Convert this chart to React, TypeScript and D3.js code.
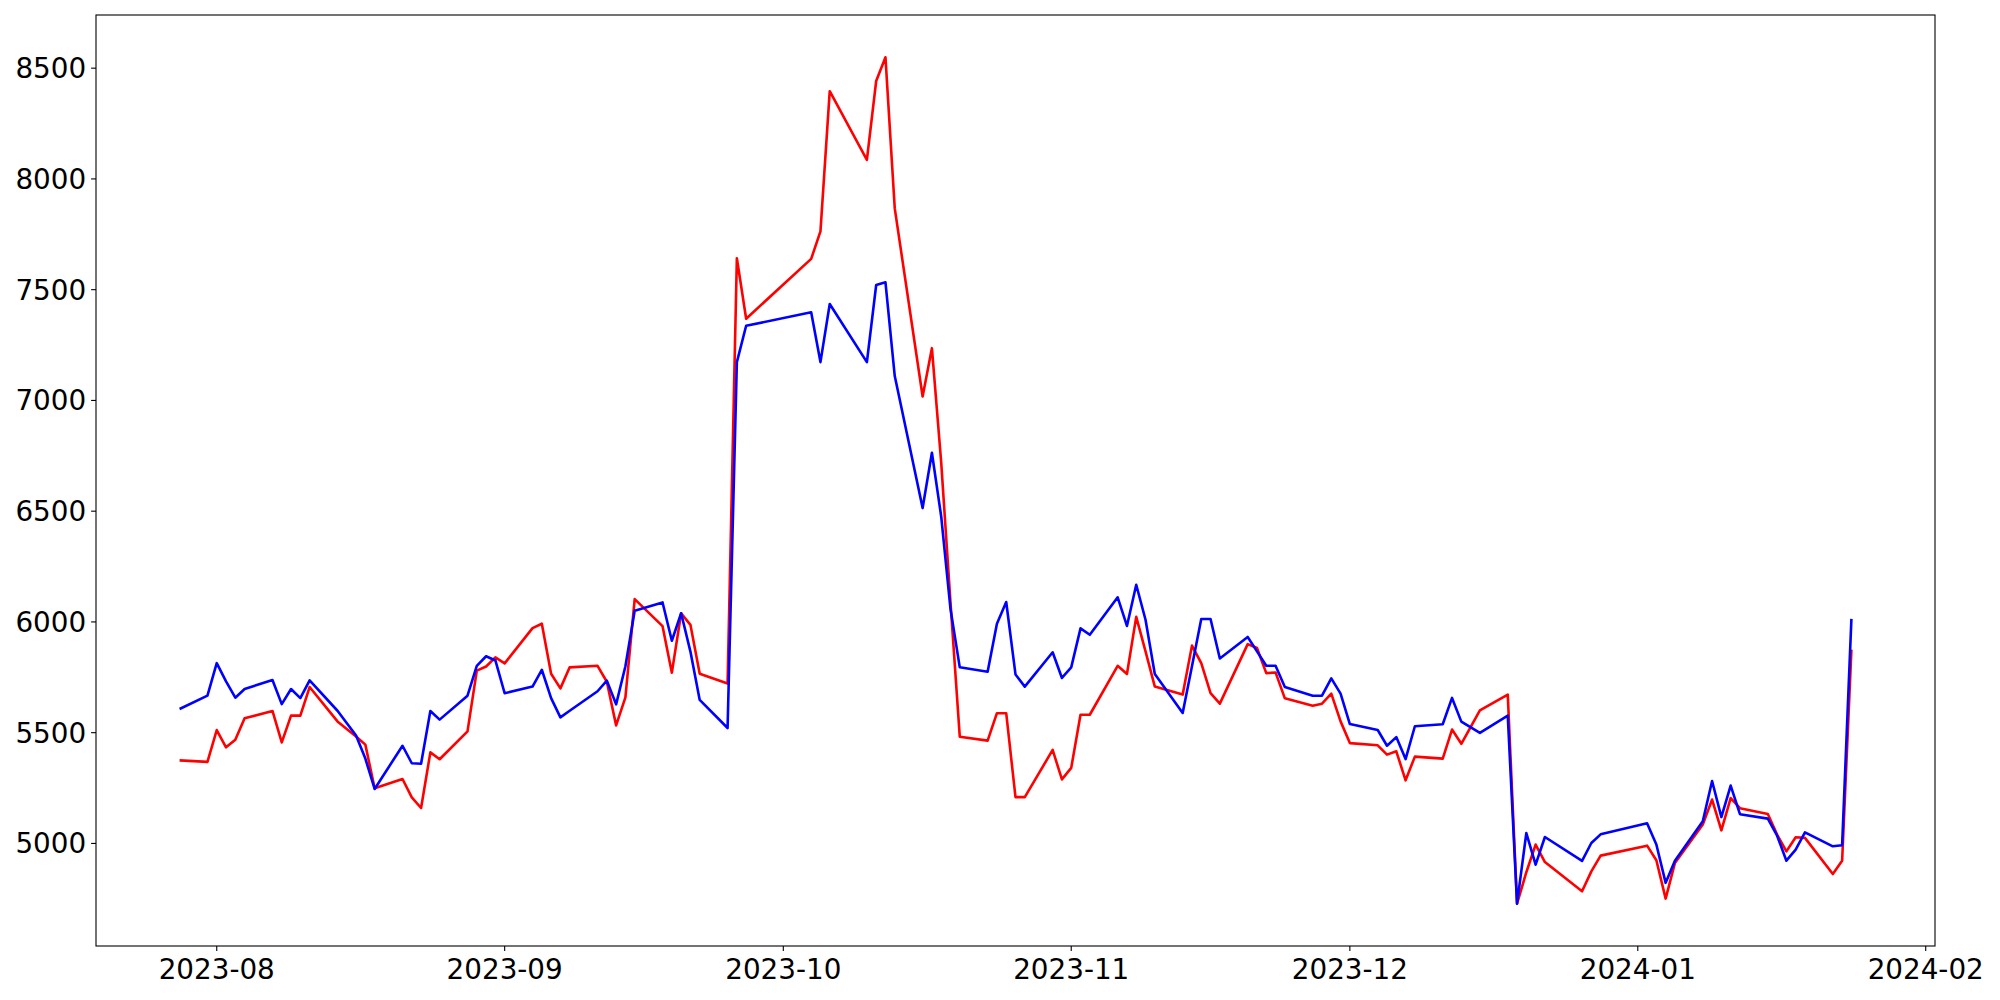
import React from "react";
import * as d3 from "d3";

const dates: string[] = [
  "2023-07-28", "2023-07-31", "2023-08-01", "2023-08-02", "2023-08-03", "2023-08-04",
  "2023-08-07", "2023-08-08", "2023-08-09", "2023-08-10", "2023-08-11",
  "2023-08-14", "2023-08-16", "2023-08-17", "2023-08-18",
  "2023-08-21", "2023-08-22", "2023-08-23", "2023-08-24", "2023-08-25",
  "2023-08-28", "2023-08-29", "2023-08-30", "2023-08-31", "2023-09-01",
  "2023-09-04", "2023-09-05", "2023-09-06", "2023-09-07", "2023-09-08",
  "2023-09-11", "2023-09-12", "2023-09-13", "2023-09-14", "2023-09-15",
  "2023-09-18", "2023-09-19", "2023-09-20", "2023-09-21", "2023-09-22",
  "2023-09-25", "2023-09-26", "2023-09-27",
  "2023-10-04", "2023-10-05", "2023-10-06",
  "2023-10-10", "2023-10-11", "2023-10-12", "2023-10-13",
  "2023-10-16", "2023-10-17", "2023-10-18", "2023-10-19", "2023-10-20",
  "2023-10-23", "2023-10-24", "2023-10-25", "2023-10-26", "2023-10-27",
  "2023-10-30", "2023-10-31", "2023-11-01", "2023-11-02", "2023-11-03",
  "2023-11-06", "2023-11-07", "2023-11-08", "2023-11-09", "2023-11-10",
  "2023-11-13", "2023-11-14", "2023-11-15", "2023-11-16", "2023-11-17",
  "2023-11-20", "2023-11-21", "2023-11-22", "2023-11-23", "2023-11-24",
  "2023-11-27", "2023-11-28", "2023-11-29", "2023-11-30", "2023-12-01",
  "2023-12-04", "2023-12-05", "2023-12-06", "2023-12-07", "2023-12-08",
  "2023-12-11", "2023-12-12", "2023-12-13", "2023-12-15",
  "2023-12-18", "2023-12-19", "2023-12-20", "2023-12-21", "2023-12-22",
  "2023-12-26", "2023-12-27", "2023-12-28",
  "2024-01-02", "2024-01-03", "2024-01-04", "2024-01-05",
  "2024-01-08", "2024-01-09", "2024-01-10", "2024-01-11", "2024-01-12",
  "2024-01-15", "2024-01-16", "2024-01-17", "2024-01-18", "2024-01-19",
  "2024-01-22", "2024-01-23", "2024-01-24",
];

const redValues: number[] = [
  5375, 5368, 5512, 5434, 5468, 5565,
  5598, 5456, 5577, 5577, 5706,
  5551, 5483, 5446, 5249,
  5291, 5208, 5160, 5411, 5380,
  5506, 5780, 5799, 5840, 5813,
  5972, 5992, 5766, 5700, 5795,
  5802, 5730, 5533, 5659, 6103,
  5981, 5771, 6039, 5987, 5766,
  5722, 7642, 7369,
  7639, 7763, 8396,
  8086, 8442, 8549, 7867,
  7018, 7236, 6720, 6088, 5482,
  5464, 5588, 5588, 5209, 5209,
  5422, 5289, 5341, 5581, 5581,
  5802, 5765, 6023, 5867, 5708,
  5672, 5893, 5814, 5679, 5631,
  5900, 5882, 5769, 5772, 5655,
  5622, 5631, 5676, 5551, 5453,
  5443, 5401, 5416, 5285, 5392,
  5383, 5514, 5450, 5601,
  5672, 4728, 4870, 4995, 4916,
  4784, 4874, 4945,
  4990, 4924, 4751, 4912,
  5085, 5198, 5059, 5205, 5159,
  5133, 5040, 4964, 5028, 5025,
  4862, 4922, 5875,
];

const blueValues: number[] = [
  5607, 5667, 5814, 5732, 5658, 5697,
  5738, 5629, 5697, 5656, 5736,
  5599, 5487, 5383, 5246,
  5441, 5362, 5360, 5598, 5559,
  5667, 5802, 5845, 5826, 5678,
  5708, 5784, 5656, 5569, 5599,
  5687, 5735, 5628, 5800, 6051,
  6088, 5915, 6039, 5866, 5648,
  5521, 7173, 7337,
  7398, 7173, 7435,
  7173, 7521, 7533, 7110,
  6514, 6764, 6476, 6059, 5795,
  5775, 5992, 6090, 5763, 5708,
  5863, 5747, 5795, 5971, 5942,
  6111, 5982, 6168, 6010, 5765,
  5589, 5800, 6013, 6013, 5835,
  5932, 5867, 5802, 5802, 5706,
  5667, 5667, 5745, 5676, 5539,
  5512, 5441, 5480, 5381, 5529,
  5538, 5657, 5550, 5499,
  5577, 4728, 5047, 4904, 5029,
  4921, 5002, 5041,
  5091, 4995, 4822, 4922,
  5100, 5282, 5119, 5261, 5132,
  5112, 5035, 4922, 4972, 5050,
  4987, 4992, 6014,
];

const yTicks: number[] = [5000, 5500, 6000, 6500, 7000, 7500, 8000, 8500];
const xTickLabels: string[] = ["2023-08", "2023-09", "2023-10", "2023-11", "2023-12", "2024-01", "2024-02"];

const W = 2000;
const H = 1000;
const left = 96;
const right = 1935;
const top = 15;
const bottom = 946;

export default function App() {
  const parse = d3.utcParse("%Y-%m-%d");
  const parseMonth = d3.utcParse("%Y-%m");
  const xs = dates.map((d) => parse(d) as Date);

  const [x0, x1] = d3.extent(xs) as [Date, Date];
  const xPad = (x1.getTime() - x0.getTime()) * 0.05;
  const x = d3
    .scaleUtc()
    .domain([new Date(x0.getTime() - xPad), new Date(x1.getTime() + xPad)])
    .range([left, right]);

  const all = redValues.concat(blueValues);
  const yMin = d3.min(all) as number;
  const yMax = d3.max(all) as number;
  const yPad = (yMax - yMin) * 0.05;
  const y = d3.scaleLinear().domain([yMin - yPad, yMax + yPad]).range([bottom, top]);

  const mk = (vals: number[]) =>
    d3
      .line<number>()
      .x((_, i) => x(xs[i]))
      .y((v) => y(v))(vals) as string;

  const font = "'DejaVu Sans', sans-serif";
  const fs = 27.8;

  return (
    <svg
      width={W}
      height={H}
      style={{ position: "absolute", left: 0, top: 0, background: "#fff" }}
    >
      <rect x={0} y={0} width={W} height={H} fill="#fff" />
      <path d={mk(redValues)} fill="none" stroke="#ff0000" strokeWidth={2.6} strokeLinejoin="round" />
      <path d={mk(blueValues)} fill="none" stroke="#0000ff" strokeWidth={2.6} strokeLinejoin="round" />
      <rect x={left} y={top} width={right - left} height={bottom - top} fill="none" stroke="#000" strokeWidth={1.1} />
      {yTicks.map((t) => (
        <g key={"y" + t}>
          <line x1={left} x2={left - 4.9} y1={y(t)} y2={y(t)} stroke="#000" strokeWidth={1.1} />
          <text x={left - 9.8} y={y(t) + 10} textAnchor="end" fontFamily={font} fontSize={fs} fill="#000">
            {t}
          </text>
        </g>
      ))}
      {xTickLabels.map((lab) => {
        const px = x(parseMonth(lab) as Date);
        return (
          <g key={lab}>
            <line x1={px} x2={px} y1={bottom} y2={bottom + 4.9} stroke="#000" strokeWidth={1.1} />
            <text x={px} y={979} textAnchor="middle" fontFamily={font} fontSize={fs} fill="#000">
              {lab}
            </text>
          </g>
        );
      })}
    </svg>
  );
}
